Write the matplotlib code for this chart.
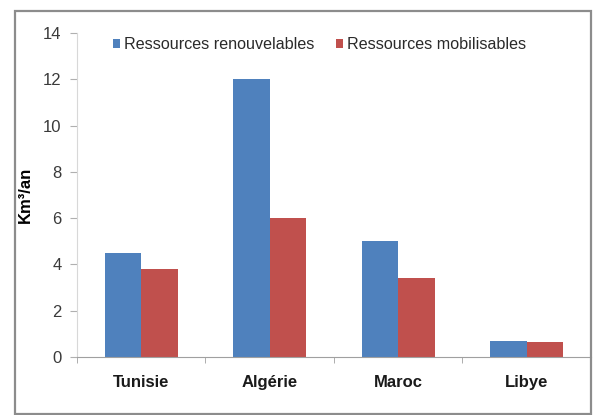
import numpy as np
import matplotlib
matplotlib.use('Agg')
import matplotlib.pyplot as plt
from matplotlib.patches import Rectangle

pays = ['Tunisie', 'Algérie', 'Maroc', 'Libye']
renouvelables = [4.5, 12.0, 5.0, 0.7]
mobilisables = [3.8, 6.0, 3.4, 0.65]
yticks = [0, 2, 4, 6, 8, 10, 12, 14]

plt.rcParams['font.family'] = ['Arial', 'Liberation Sans', 'DejaVu Sans']

fig = plt.figure(figsize=(5.95, 4.15), dpi=100)
ax = fig.add_axes([0.1294, 0.1398, 0.8636, 0.7807])

# cadre autour du graphique
fig.patches.append(Rectangle((0.026, 0.002), 0.968, 0.972, transform=fig.transFigure,
                             fill=False, edgecolor='#8c8c8c', linewidth=1.6))

x = np.arange(len(pays))
w = 0.284
ax.bar(x - w/2, renouvelables, w, color='#4F81BD', label='Ressources renouvelables')
ax.bar(x + w/2, mobilisables, w, color='#C0504D', label='Ressources mobilisables')

ax.set_xlim(-0.5, 3.5)
ax.set_ylim(0, 14)
ax.set_yticks(yticks)
ax.set_xticks(x)
ax.set_xticklabels(pays, fontsize=12, fontweight='bold', color='#1a1a1a')
ax.set_xticks(np.arange(-0.5, 3.6, 1.0), minor=True)
ax.tick_params(axis='x', which='major', length=0, pad=13)
ax.tick_params(axis='x', which='minor', length=4, color='#a0a0a0', direction='out')
ax.tick_params(axis='y', length=5, color='#b0b0b0', labelsize=12, labelcolor='#3a3a3a', pad=6)

for s in ['top', 'right']:
    ax.spines[s].set_visible(False)
ax.spines['left'].set_color('#d8d8d8')
ax.spines['bottom'].set_color('#a0a0a0')

ax.set_ylabel('Km³/an', fontsize=12, fontweight='bold')
ax.yaxis.set_label_coords(-0.086, 0.5)

ax.legend(loc='center left', bbox_to_anchor=(0.19, 0.892), bbox_transform=fig.transFigure,
          ncol=2, frameon=False, fontsize=11.6, handlelength=0.45, handleheight=0.45,
          handletextpad=0.25, columnspacing=1.3, labelcolor='#2a2a2a',
          borderpad=0, borderaxespad=0)

fig.savefig('out.png', dpi=100)
